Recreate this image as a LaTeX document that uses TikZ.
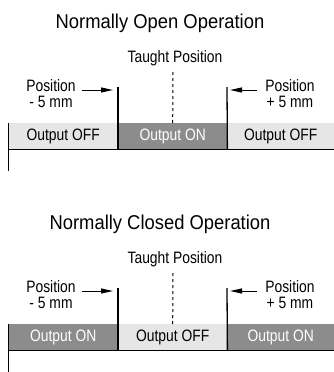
\documentclass[tikz,border=0pt]{standalone}
\usepackage{fontspec}
\setmainfont[FakeStretch=0.92]{Liberation Sans}
\newfontfamily\narrowfont[FakeStretch=0.84]{Liberation Sans}
\usetikzlibrary{arrows.meta}
\definecolor{offgray}{HTML}{E6E6E6}
\definecolor{ongray}{HTML}{8C8C8C}

\begin{document}
\begin{tikzpicture}[x=1pt,y=-1pt,
		txt/.style={font=\narrowfont\fontsize{16.5}{16.5}\selectfont,inner sep=0pt},
		seg/.style={txt,anchor=north west,minimum height=26pt},
		off/.style={seg,fill=offgray,text=black},
		on/.style={seg,fill=ongray,text=white},
		edge/.style={line width=1.3pt},
		pointer/.style={line width=1pt,-{Triangle[length=12pt,width=5pt]}}]
		\useasboundingbox (0,0) rectangle (334,372);
		\foreach \oy/\mode/\outer/\otxt/\inner/\itxt/\n in {0/Open/off/OFF/on/ON/o,201/Closed/on/ON/off/OFF/c} {
			\begin{scope}[shift={(0,\oy)}]
				\node[font=\fontsize{20}{22}\selectfont,inner sep=0pt,anchor=base] (title-\n) at (160,28) {Normally \mode{} Operation};
				\node[txt,anchor=base] (taught-\n) at (175,62) {Taught Position};
				\node[\outer,minimum width=110pt] (left-\n) at (8,123) {Output \otxt};
				\node[\inner,minimum width=109pt] (mid-\n) at (118,123) {Output \itxt};
				\node[\outer,minimum width=107pt] (right-\n) at (227,123) {Output \otxt};
				\node[txt,align=center,anchor=north] (minus-\n) at (51,79) {Position\\- 5 mm};
				\node[txt,align=center,anchor=north] (plus-\n) at (290,79) {Position\\+ 5 mm};
				\coordinate (ltop-\n) at (118,87);
				\coordinate (rtop-\n) at (227,87);
				\coordinate (dash-\n) at (173,72);
				\coordinate (low-\n) at (8,171);
				\coordinate (la-\n) at (82,90);
				\coordinate (lb-\n) at (113,90);
				\coordinate (ra-\n) at (257,90);
				\coordinate (rb-\n) at (230,90);
				\draw[line width=1pt] (left-\n.north west) -- (low-\n);
				\draw[line width=1.5pt] (left-\n.south west) -- (right-\n.south east);
				\draw[edge] (ltop-\n) -- (mid-\n.south west);
				\draw[edge] (rtop-\n) -- (mid-\n.south east);
				\draw[line width=1pt,dash pattern=on 3pt off 3pt] (dash-\n) -- (mid-\n.north);
				\draw[pointer] (la-\n) -- (lb-\n);
				\draw[pointer] (ra-\n) -- (rb-\n);
			\end{scope}
		}
\end{tikzpicture}
\end{document}
